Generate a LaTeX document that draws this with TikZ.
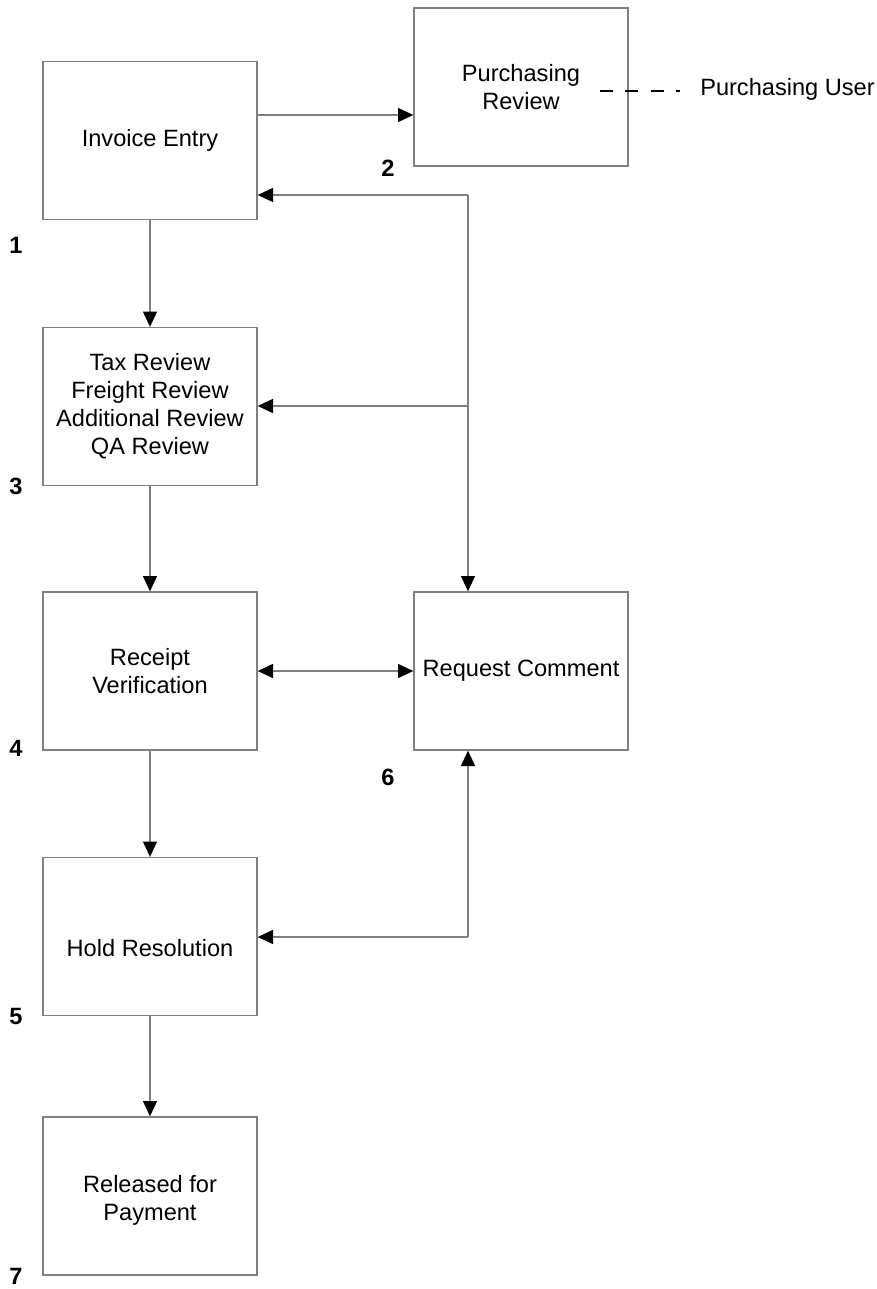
\documentclass[tikz,border=0pt]{standalone}
\usepackage{fontspec}
\setmainfont{Liberation Sans}
\usetikzlibrary{arrows.meta}
\newcommand{\boxfont}{\fontsize{17.7}{21}\selectfont}
\begin{document}
\begin{tikzpicture}[x=0.75pt,y=-0.75pt,
  stepbox/.style={draw=black!50,line width=1pt,fill=white,
    minimum width=160.5pt,minimum height=118.5pt,inner sep=0pt,
    align=center,font=\boxfont},
  numlabel/.style={font=\boxfont\bfseries,inner sep=0pt},
  tip/.style={Triangle[length=11.5pt,width=10.5pt,color=black]},
  flow/.style={draw=black!50,line width=1pt,-{Triangle[length=11.5pt,width=10.5pt,color=black]}},
  flow2/.style={draw=black!50,line width=1pt,
    {Triangle[length=11.5pt,width=10.5pt,color=black]}-{Triangle[length=11.5pt,width=10.5pt,color=black]}},
  wire/.style={draw=black!50,line width=1pt}]
\useasboundingbox (0,0) rectangle (876,1289);

% process boxes
\node[stepbox] (inv)  at (150,140.5) {Invoice Entry};
\node[stepbox] (pur)  at (521,87)    {Purchasing\\Review};
\node[stepbox] (tax)  at (150,406.5) {Tax Review\\Freight Review\\Additional Review\\QA Review};
\node[stepbox] (rec)  at (150,671)   {Receipt\\Verification};
\node[stepbox] (req)  at (521,671)   {Request Comment};
\node[stepbox] (hold) at (150,936.5) {\raisebox{-9pt}[\height][\depth]{Hold Resolution}};
\node[stepbox] (rel)  at (150,1196)  {\raisebox{-3.5pt}[\height][\depth]{\begin{tabular}{@{}c@{}}Released for\\Payment\end{tabular}}};

% step numbers
\node[numlabel] (n1) at (16,245)  {1};
\node[numlabel] (n2) at (388,168) {2};
\node[numlabel] (n3) at (16,486)  {3};
\node[numlabel] (n4) at (16,748)  {4};
\node[numlabel] (n5) at (16,1016) {5};
\node[numlabel] (n6) at (388,777) {6};
\node[numlabel] (n7) at (16,1276) {7};

% role attached to purchasing review
\coordinate (d0) at (600,91);
\node[anchor=west,inner sep=0pt,font=\boxfont] (user) at (700,89) {Purchasing User};
\draw[black,line width=1.2pt,dash pattern=on 9.75pt off 9.25pt] (d0) -- (680,91);

% main flow
\draw[flow] (inv.east |- 0,115) -- (pur.west |- 0,115);
\draw[flow] (inv.south) -- (tax.north);
\draw[flow] (tax.south) -- (rec.north);
\draw[flow] (rec.south) -- (hold.north);
\draw[flow] (hold.south) -- (rel.north);

% comment loop
\coordinate (j1) at (468,195);
\coordinate (j2) at (468,406);
\coordinate (j3) at (468,937);
\draw[wire] (j1) -- (j2);
\draw[flow] (j1) -- (inv.east |- j1);
\draw[flow] (j2) -- (tax.east |- j2);
\draw[flow] (j2) -- (j2 |- req.north);
\draw[flow2] (rec.east) -- (req.west);
\draw[flow] (j3) -- (j3 |- req.south);
\draw[flow] (j3) -- (hold.east |- j3);
\end{tikzpicture}
\end{document}
